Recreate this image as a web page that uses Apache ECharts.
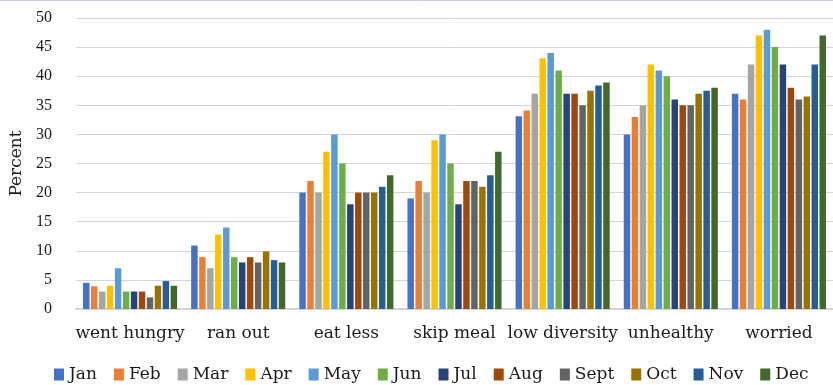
<!DOCTYPE html>
<html>
<head>
<meta charset="utf-8">
<script src="https://cdn.jsdelivr.net/npm/echarts@6/dist/echarts.min.js"></script>
<style>
  html, body { margin: 0; padding: 0; background: #fff; }
  #chart { width: 833px; height: 385px; }
</style>
</head>
<body>
<div id="chart"></div>
<script>
// Food insecurity indicators by month (percent of respondents)
const categories = ['went hungry', 'ran out', 'eat less', 'skip meal', 'low diversity', 'unhealthy', 'worried'];
const months = ['Jan', 'Feb', 'Mar', 'Apr', 'May', 'Jun', 'Jul', 'Aug', 'Sept', 'Oct', 'Nov', 'Dec'];

// one value per category for each month
const Jan  = [4.5, 10.9, 20, 19, 33.1, 30, 37];
const Feb  = [3.9, 8.9, 22, 22, 34.1, 33, 36];
const Mar  = [3, 7, 20, 20, 37, 35, 42];
const Apr  = [4, 12.8, 27, 29, 43.1, 42, 47];
const May  = [7, 14, 30, 30, 44, 41, 48];
const Jun  = [3, 8.9, 25, 25, 41, 40, 45];
const Jul  = [3, 8, 18, 18, 37, 36, 42];
const Aug  = [3, 8.9, 20, 22, 37, 35, 38];
const Sept = [2, 8, 20, 22, 35, 35, 36];
const Oct  = [4, 9.9, 20, 21, 37.5, 37, 36.5];
const Nov  = [4.8, 8.4, 21, 23, 38.4, 37.5, 42];
const Dec  = [4, 8, 23, 27, 38.9, 38, 47];

const monthValues = [Jan, Feb, Mar, Apr, May, Jun, Jul, Aug, Sept, Oct, Nov, Dec];
const colors = ['#4472C4', '#ED7D31', '#A5A5A5', '#FFC000', '#5B9BD5', '#70AD47',
                '#264478', '#9E480E', '#636363', '#997300', '#255E91', '#43682B'];

const yTicks = { min: 0, max: 50, interval: 5 };
const textFont = '"DejaVu Serif", "Liberation Serif", serif';
const tickFont = '"Liberation Serif", "DejaVu Serif", serif';

const chart = echarts.init(document.getElementById('chart'), null, { renderer: 'canvas' });

chart.setOption({
  animation: false,
  color: colors,
  textStyle: { fontFamily: textFont },
  // plot area runs a little past the right edge of the canvas
  grid: { left: 74, top: 18, width: 768, height: 291, containLabel: false },
  legend: {
    data: months,
    top: 361,
    left: 49,
    itemWidth: 10,
    itemHeight: 12,
    itemGap: 17,
    icon: 'rect',
    textStyle: { fontSize: 17, color: '#1a1a1a', fontFamily: textFont }
  },
  xAxis: {
    type: 'category',
    data: categories,
    axisLine: { lineStyle: { color: '#d4d4d4', width: 2 } },
    axisTick: { show: false },
    axisLabel: { interval: 0, fontSize: 17, color: '#1a1a1a', margin: 16, fontFamily: textFont }
  },
  yAxis: {
    type: 'value',
    min: yTicks.min,
    max: yTicks.max,
    interval: yTicks.interval,
    name: 'Percent',
    nameLocation: 'middle',
    nameGap: 51,
    nameRotate: 90,
    nameTextStyle: { fontSize: 17, color: '#1a1a1a', fontFamily: textFont },
    axisLine: { show: false },
    axisTick: { show: false },
    axisLabel: { fontSize: 16, color: '#1a1a1a', margin: 24, fontFamily: tickFont },
    splitLine: { lineStyle: { color: '#d4d4d4', width: 1 } }
  },
  series: months.map((m, i) => ({
    name: m,
    type: 'bar',
    data: monthValues[i],
    barGap: '23%',
    barCategoryGap: '13%'
  })),
  graphic: [{
    type: 'line',
    shape: { x1: 0, y1: 0.5, x2: 833, y2: 0.5 },
    style: { stroke: '#c9d1e2', lineWidth: 1 }
  }]
});
</script>
</body>
</html>
